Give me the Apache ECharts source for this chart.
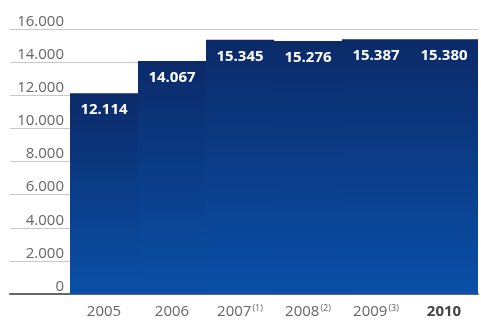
<!DOCTYPE html>
<html>
<head>
<meta charset="utf-8">
<script src="https://cdn.jsdelivr.net/npm/echarts@6/dist/echarts.min.js"></script>
<style>
  html, body { margin: 0; padding: 0; background: #fff; }
  #chart { width: 481px; height: 321px; }
</style>
</head>
<body>
<div id="chart"></div>
<script>
const years = ['2005', '2006', '2007', '2008', '2009', '2010'];
const notes = ['', '', '(1)', '(2)', '(3)', ''];
const values = [12114, 14067, 15345, 15276, 15387, 15380];
const yMax = 16000;
const yStep = 2000;

// 12114 -> "12.114"
function fmt(v) {
    return String(v).replace(/\B(?=(\d{3})+(?!\d))/g, '.');
}

let dom = document.getElementById('chart');
let myChart = echarts.init(dom, null, { renderer: 'canvas' });

let option = {
    animation: false,
    grid: [
        { left: 10, width: 60, top: 29, bottom: 27 },
        { left: 70, width: 408, top: 29, bottom: 27 }
    ],
    xAxis: [
        {
            gridIndex: 0,
            type: 'category',
            data: [''],
            axisLine: { lineStyle: { color: '#666', width: 2 } },
            axisTick: { show: false },
            axisLabel: { show: false }
        },
        {
            gridIndex: 1,
            type: 'category',
            data: years,
            axisLine: { lineStyle: { color: '#666', width: 2 } },
            axisTick: { show: false },
            axisLabel: {
                interval: 0,
                margin: 10,
                formatter: function (val, idx) {
                    if (val === '2010') return '{b|' + val + '}';
                    let s = '{a|' + val + '}';
                    if (notes[idx]) s += '{s|' + notes[idx] + '}';
                    return s;
                },
                rich: {
                    a: { fontFamily: 'Open Sans', fontSize: 15, color: '#666' },
                    b: { fontFamily: 'Open Sans', fontSize: 15, color: '#444', fontWeight: 'bold' },
                    s: { fontFamily: 'Open Sans', fontSize: 9, color: '#666', verticalAlign: 'top', padding: [0, 0, 7, 1] }
                }
            }
        }
    ],
    yAxis: [
        {
            gridIndex: 0,
            type: 'value',
            position: 'right',
            min: 0,
            max: yMax,
            interval: yStep,
            axisLine: { show: false },
            axisTick: { show: false },
            splitLine: { lineStyle: { color: '#c8c8c8' } },
            axisLabel: {
                inside: true,
                margin: 6,
                verticalAlign: 'bottom',
                fontFamily: 'Open Sans',
                fontSize: 15,
                color: '#666',
                formatter: fmt
            }
        },
        {
            gridIndex: 1,
            type: 'value',
            min: 0,
            max: yMax,
            interval: yStep,
            axisLine: { show: false },
            axisTick: { show: false },
            axisLabel: { show: false },
            splitLine: { lineStyle: { color: '#c8c8c8' } }
        }
    ],
    series: [
        {
            type: 'bar',
            xAxisIndex: 1,
            yAxisIndex: 1,
            data: values,
            barCategoryGap: '0%',
            itemStyle: {
                color: new echarts.graphic.LinearGradient(0, 0, 0, 1, [
                    { offset: 0, color: '#0b2a68' },
                    { offset: 1, color: '#0a50a8' }
                ])
            },
            label: {
                show: true,
                position: 'insideTop',
                distance: 9,
                color: '#fff',
                fontFamily: 'Open Sans',
                fontWeight: 'bold',
                fontSize: 15,
                formatter: function (p) { return fmt(p.value); }
            }
        }
    ]
};

myChart.setOption(option);
window.addEventListener('resize', myChart.resize);
</script>
</body>
</html>
